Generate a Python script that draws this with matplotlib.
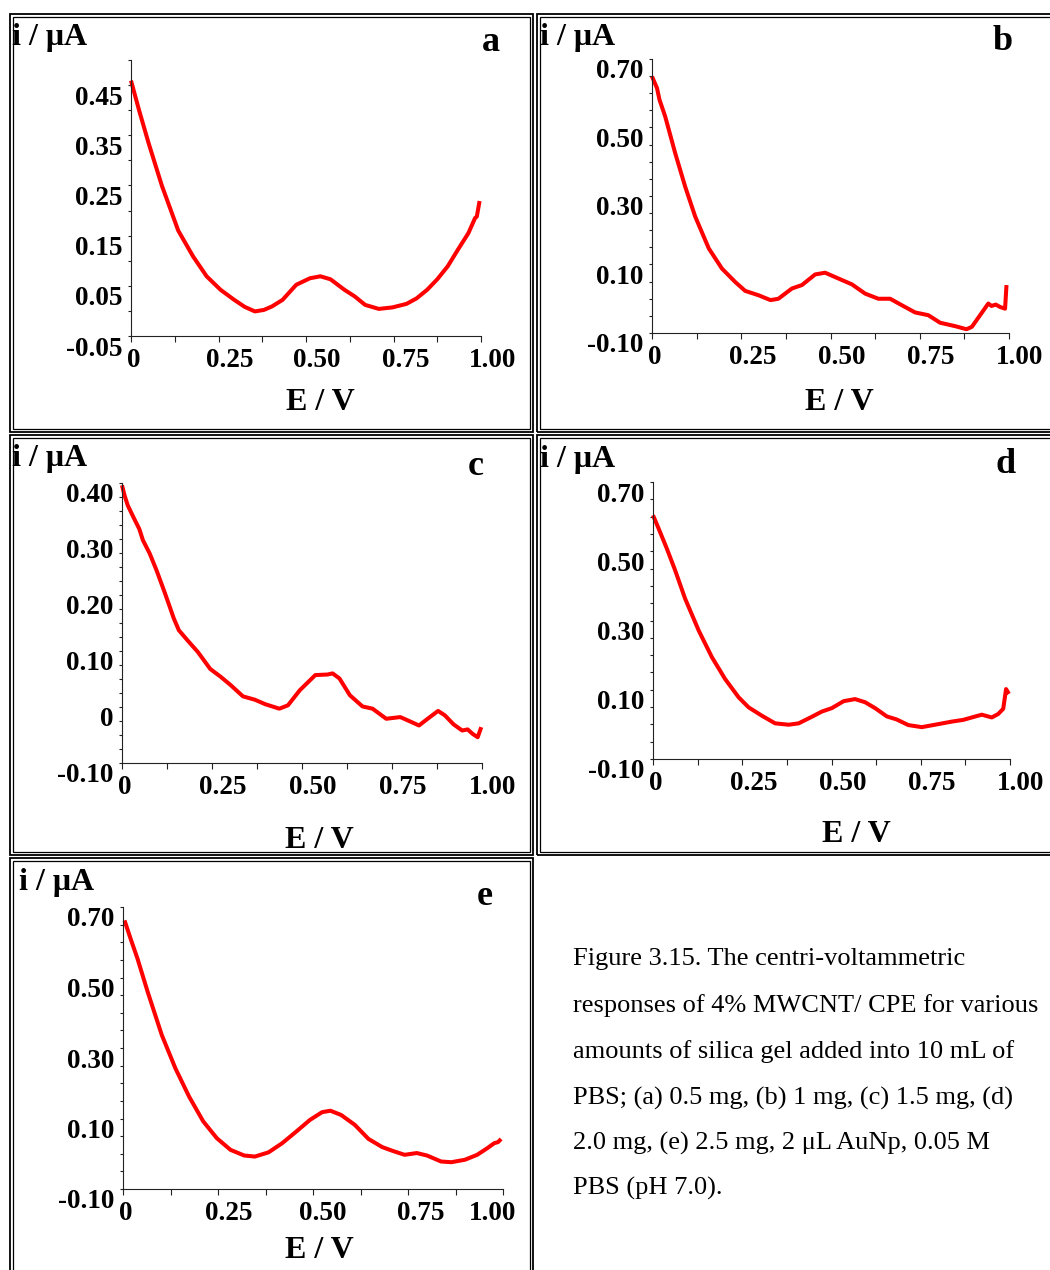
import matplotlib
matplotlib.use("Agg")
import matplotlib.pyplot as plt
from matplotlib.patches import Rectangle
from matplotlib.transforms import ScaledTranslation

plt.rcParams['font.family'] = ['Liberation Serif', 'DejaVu Serif']

# potential (V) and current (uA)
E_a = [0, 0.023, 0.050, 0.088, 0.135, 0.177, 0.216, 0.256, 0.295, 0.325, 0.354, 0.380, 0.403,
       0.433, 0.472, 0.511, 0.541, 0.570, 0.610, 0.639, 0.669, 0.708, 0.747, 0.787, 0.816,
       0.846, 0.875, 0.905, 0.934, 0.964, 0.983, 0.988, 0.996]
I_a = [0.459, 0.400, 0.335, 0.250, 0.160, 0.109, 0.069, 0.042, 0.022, 0.008, -0.001, 0.002,
       0.009, 0.022, 0.052, 0.065, 0.069, 0.063, 0.042, 0.029, 0.012, 0.004, 0.007, 0.014,
       0.025, 0.042, 0.063, 0.089, 0.122, 0.155, 0.185, 0.188, 0.219]

E_b = [0, 0.014, 0.021, 0.037, 0.065, 0.093, 0.121, 0.159, 0.196, 0.233, 0.261, 0.299,
       0.332, 0.354, 0.392, 0.420, 0.457, 0.485, 0.518, 0.560, 0.597, 0.634, 0.667,
       0.700, 0.737, 0.774, 0.807, 0.849, 0.881, 0.896, 0.919, 0.942, 0.951, 0.963,
       0.975, 0.989, 0.993]
I_b = [0.649, 0.615, 0.581, 0.532, 0.425, 0.327, 0.240, 0.147, 0.088, 0.049, 0.023, 0.010,
       -0.004, 0.000, 0.030, 0.040, 0.071, 0.076, 0.061, 0.042, 0.015, 0.000, 0.000,
       -0.019, -0.040, -0.048, -0.070, -0.080, -0.089, -0.082, -0.048, -0.014, -0.021, -0.017,
       -0.024, -0.029, 0.040]

E_c = [0, 0.007, 0.016, 0.034, 0.048, 0.058, 0.077, 0.096, 0.120, 0.144, 0.158, 0.182,
       0.211, 0.245, 0.274, 0.302, 0.336, 0.369, 0.398, 0.437, 0.461, 0.494, 0.537,
       0.571, 0.585, 0.604, 0.633, 0.668, 0.696, 0.734, 0.773, 0.801, 0.825, 0.849,
       0.878, 0.897, 0.921, 0.945, 0.960, 0.974, 0.988, 0.998]
I_c = [0.396, 0.378, 0.360, 0.336, 0.318, 0.298, 0.274, 0.244, 0.202, 0.158, 0.137, 0.119,
       0.098, 0.068, 0.054, 0.039, 0.019, 0.013, 0.005, -0.003, 0.003, 0.030, 0.057,
       0.058, 0.060, 0.051, 0.021, 0.001, -0.003, -0.021, -0.018, -0.026, -0.033, -0.021,
       -0.007, -0.015, -0.031, -0.042, -0.040, -0.048, -0.054, -0.036]

E_d = [0, 0.016, 0.039, 0.062, 0.090, 0.128, 0.165, 0.202, 0.240, 0.268, 0.305, 0.342,
       0.380, 0.408, 0.445, 0.473, 0.501, 0.534, 0.566, 0.594, 0.622, 0.655, 0.683,
       0.715, 0.753, 0.790, 0.837, 0.869, 0.893, 0.921, 0.949, 0.967, 0.981, 0.989, 0.997]
I_d = [0.604, 0.565, 0.507, 0.445, 0.363, 0.271, 0.194, 0.131, 0.078, 0.049, 0.025, 0.003,
       -0.001, 0.003, 0.022, 0.037, 0.047, 0.067, 0.073, 0.064, 0.047, 0.023, 0.014,
       -0.002, -0.008, -0.001, 0.008, 0.013, 0.020, 0.028, 0.020, 0.030, 0.045, 0.102, 0.088]

E_e = [0.004, 0.020, 0.038, 0.065, 0.102, 0.138, 0.174, 0.211, 0.247, 0.283, 0.319, 0.347,
       0.383, 0.419, 0.456, 0.492, 0.524, 0.546, 0.574, 0.610, 0.646, 0.682, 0.710,
       0.741, 0.773, 0.800, 0.837, 0.864, 0.900, 0.932, 0.959, 0.977, 0.987, 0.995]
I_e = [0.662, 0.610, 0.554, 0.459, 0.337, 0.242, 0.162, 0.092, 0.044, 0.011, -0.005, -0.008,
       0.004, 0.030, 0.063, 0.096, 0.118, 0.122, 0.110, 0.082, 0.042, 0.019, 0.008,
       -0.003, 0.002, -0.005, -0.022, -0.024, -0.017, -0.003, 0.016, 0.030, 0.033, 0.042]

x_ticks = [0, 0.25, 0.50, 0.75, 1.00]
x_labels = ['0', '0.25', '0.50', '0.75', '1.00']

yt_a = [-0.05, 0.05, 0.15, 0.25, 0.35, 0.45]
yl_a = ['-0.05', '0.05', '0.15', '0.25', '0.35', '0.45']
yt_bde = [-0.10, 0.10, 0.30, 0.50, 0.70]
yl_bde = ['-0.10', '0.10', '0.30', '0.50', '0.70']
yt_c = [-0.10, 0, 0.10, 0.20, 0.30, 0.40]
yl_c = ['-0.10', '0', '0.10', '0.20', '0.30', '0.40']

caption_lines = [
    "Figure 3.15. The centri-voltammetric",
    "responses of 4% MWCNT/ CPE for various",
    "amounts of silica gel added into 10 mL of",
    "PBS; (a) 0.5 mg, (b) 1 mg, (c) 1.5 mg, (d)",
    "2.0 mg, (e) 2.5 mg, 2 \u03bcL AuNp, 0.05 M",
    "PBS (pH 7.0).",
]

W, H = 1050, 1270
fig = plt.figure(figsize=(W / 100, H / 100), dpi=100)


def fx(px):
    return px / W


def fy(py):
    return 1 - py / H


def frame(x0, y0, x1, y1):
    # double line border round each panel
    for d, lw in ((0, 1.3), (3, 0.9)):
        r = Rectangle((fx(x0 + d), fy(y1 - d)), (x1 - x0 - 2 * d) / W, (y1 - y0 - 2 * d) / H,
                      transform=fig.transFigure, fill=False, ec='black', lw=lw)
        fig.add_artist(r)


# data, yticks, ylabels, ylim, minor step, axes box px, frame px, letter, text positions, x label nudges
panels = [
    (E_a, I_a, yt_a, yl_a, (-0.05, 0.50), 0.05, (131, 60, 481, 336), (10, 14, 533, 432), 'a',
     (12, 45), (491, 51), (320, 410), [3, 11, 11, 12, 12]),
    (E_b, I_b, yt_bde, yl_bde, (-0.10, 0.70), 0.05, (652, 59, 1009, 333), (537, 14, 1056, 432), 'b',
     (540, 45), (1003, 50), (839, 410), [3, 11, 11, 11, 11]),
    (E_c, I_c, yt_c, yl_c, (-0.10, 0.40), 0.025, (122, 483, 482, 763), (10, 435, 533, 855), 'c',
     (12, 466), (476, 475), (319, 848), [3, 11, 11, 11, 11]),
    (E_d, I_d, yt_bde, yl_bde, (-0.10, 0.70), 0.05, (653, 482, 1010, 759), (537, 435, 1056, 855), 'd',
     (540, 467), (1006, 473), (856, 842), [3, 11, 11, 11, 11]),
    (E_e, I_e, yt_bde, yl_bde, (-0.10, 0.70), 0.05, (123, 907, 503, 1189), (10, 858, 533, 1276), 'e',
     (19, 890), (485, 905), (319, 1258), [3, 11, 10, 13, -10]),
]

for (E, I, yt, yl, ylim, ystep, box, frm, letter, ylab_pos, let_pos, xlab_pos, xshift) in panels:
    frame(*frm)
    x0, y0, x1, y1 = box
    ax = fig.add_axes([fx(x0), fy(y1), (x1 - x0) / W, (y1 - y0) / H])
    ax.plot(E, I, color='#ff0000', lw=2.9, solid_capstyle='butt', solid_joinstyle='round',
            clip_on=False)
    ax.set_xlim(0, 1.0)
    ax.set_ylim(*ylim)
    for s in ('top', 'right'):
        ax.spines[s].set_visible(False)
    for s in ('left', 'bottom'):
        ax.spines[s].set_linewidth(0.8)
        ax.spines[s].set_color('#222222')
    ax.set_xticks(x_ticks)
    ax.set_xticklabels(x_labels)
    ax.set_xticks([0.125, 0.375, 0.625, 0.875], minor=True)
    ax.set_yticks(yt)
    ax.set_yticklabels(yl)
    n = int(round((ylim[1] - ylim[0]) / ystep))
    mins = [round(ylim[0] + k * ystep, 4) for k in range(n + 1)]
    mins = [m for m in mins if all(abs(m - t) > 1e-6 for t in yt)]
    ax.set_yticks(mins, minor=True)
    ax.tick_params(axis='x', which='both', direction='out', length=4.3, width=0.8,
                   color='#222222', pad=4, labelsize=19.5)
    ax.tick_params(axis='y', which='both', direction='out', length=2.2, width=0.8,
                   color='#222222', pad=4, labelsize=19.5)
    for lab in ax.get_xticklabels():
        lab.set_fontweight('bold')
    for lab in ax.get_yticklabels():
        lab.set_fontweight('bold')
    # labels in the original sit a little off their ticks
    for lab, dx in zip(ax.get_xticklabels(), xshift):
        lab.set_transform(lab.get_transform() + ScaledTranslation(dx / 100, 0, fig.dpi_scale_trans))
    for lab in ax.get_yticklabels():
        lab.set_transform(lab.get_transform() + ScaledTranslation(0, -10 / 100, fig.dpi_scale_trans))

    fig.text(fx(ylab_pos[0]), fy(ylab_pos[1]), 'i / \u03bcA', fontsize=23, fontweight='bold',
             ha='left', va='baseline')
    fig.text(fx(let_pos[0]), fy(let_pos[1]), letter, fontsize=26, fontweight='bold',
             ha='center', va='baseline')
    fig.text(fx(xlab_pos[0]), fy(xlab_pos[1]), 'E / V', fontsize=23, fontweight='bold',
             ha='center', va='baseline')

base_y = [965, 1012, 1058, 1105, 1150, 1195]
for line, by in zip(caption_lines, base_y):
    fig.text(fx(573), fy(by), line, fontsize=19, ha='left', va='baseline')

fig.savefig('out.png', dpi=100, facecolor='white')
